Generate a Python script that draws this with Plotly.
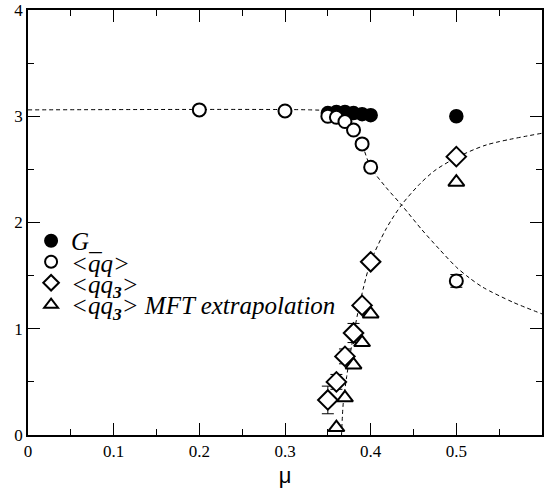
import plotly.graph_objects as go

# ---- data ----
mu_G = [0.35, 0.36, 0.37, 0.38, 0.39, 0.40, 0.50]
G_vals = [3.03, 3.04, 3.04, 3.03, 3.02, 3.01, 3.00]

mu_qq = [0.20, 0.30, 0.35, 0.36, 0.37, 0.38, 0.39, 0.40, 0.50]
qq_vals = [3.06, 3.05, 3.00, 2.99, 2.95, 2.87, 2.74, 2.52, 1.45]
qq_err = [0.01, 0.01, 0.02, 0.02, 0.03, 0.03, 0.04, 0.04, 0.06]

mu_qq3 = [0.35, 0.36, 0.37, 0.38, 0.39, 0.40, 0.50]
qq3_vals = [0.33, 0.50, 0.74, 0.96, 1.22, 1.63, 2.62]
qq3_err = [0.13, 0.07, 0.07, 0.09, 0.04, 0.03, 0.02]

mu_mft = [0.36, 0.37, 0.38, 0.39, 0.40, 0.50]
mft_vals = [0.07, 0.35, 0.66, 0.87, 1.14, 2.38]

# dashed guide curves
fall_mu = [0.0, 0.33, 0.35, 0.36, 0.37, 0.38, 0.39, 0.40, 0.418, 0.436, 0.46, 0.48, 0.50, 0.515, 0.531, 0.566, 0.60]
fall_vals = [3.06, 3.06, 3.05, 3.02, 2.96, 2.87, 2.73, 2.52, 2.33, 2.165, 1.93, 1.75, 1.58, 1.48, 1.39, 1.25, 1.14]

rise_mu = [0.366, 0.368, 0.372, 0.378, 0.385, 0.392, 0.40, 0.418, 0.436, 0.457, 0.475, 0.50, 0.535, 0.60]
rise_vals = [0.0, 0.30, 0.55, 0.85, 1.15, 1.40, 1.63, 1.94, 2.165, 2.36, 2.49, 2.61, 2.73, 2.84]

x_tickvals = [0, 0.1, 0.2, 0.3, 0.4, 0.5]
x_ticktext = ["0", "0.1", "0.2", "0.3", "0.4", "0.5"]
x_minor = [0.05, 0.15, 0.25, 0.35, 0.45, 0.55]
y_tickvals = [0, 1, 2, 3, 4]
y_ticktext = ["0", "1", "2", "3", "4"]
y_minor = [0.5, 1.5, 2.5, 3.5]

names = ["G_", "&lt;qq&gt;", "&lt;qq<sub><b>3</b></sub>&gt;",
         "&lt;qq<sub><b>3</b></sub>&gt; MFT extrapolation"]
legend_y = [0.4565, 0.407, 0.3576, 0.306]

fig = go.Figure()

dash_line = dict(color="black", width=1, dash="4px,3px")
fig.add_trace(go.Scatter(x=fall_mu, y=fall_vals, mode="lines",
                         line=dict(shape="spline", smoothing=0.8, **dash_line),
                         showlegend=False, hoverinfo="skip"))
fig.add_trace(go.Scatter(x=rise_mu, y=rise_vals, mode="lines",
                         line=dict(shape="spline", smoothing=0.8, **dash_line),
                         showlegend=False, hoverinfo="skip"))

fig.add_trace(go.Scatter(x=mu_G, y=G_vals, mode="markers", name=names[0], legend="legend",
                         marker=dict(symbol="circle", size=13, color="black", line=dict(color="black", width=1.5))))
fig.add_trace(go.Scatter(x=mu_qq, y=qq_vals, mode="markers", name=names[1], legend="legend2",
                         error_y=dict(type="data", array=qq_err, color="black", thickness=1, width=6),
                         marker=dict(symbol="circle", size=13, color="white", line=dict(color="black", width=2))))
fig.add_trace(go.Scatter(x=mu_qq3, y=qq3_vals, mode="markers", name=names[2], legend="legend3",
                         error_y=dict(type="data", array=qq3_err, color="black", thickness=1, width=6),
                         marker=dict(symbol="diamond", size=15, color="white", line=dict(color="black", width=2))))
fig.add_trace(go.Scatter(x=mu_mft, y=mft_vals, mode="markers", name=names[3], legend="legend4",
                         marker=dict(symbol="triangle-up", size=14, color="white", line=dict(color="black", width=2)),
                         cliponaxis=False))

serif = "Times New Roman"
tick_font = dict(family=serif, size=17, color="black")
leg_font = dict(family=serif, size=25, color="black", style="italic")


def leg(yv):
    return dict(x=0.006, y=yv, xanchor="left", yanchor="middle",
                bgcolor="rgba(0,0,0,0)", borderwidth=0, font=leg_font,
                itemwidth=30, itemsizing="constant")


fig.update_layout(
    width=554, height=497,
    margin=dict(l=28, r=12, t=10, b=62),
    plot_bgcolor="white", paper_bgcolor="white",
    showlegend=True,
    legend=leg(legend_y[0]), legend2=leg(legend_y[1]),
    legend3=leg(legend_y[2]), legend4=leg(legend_y[3]),
    xaxis=dict(range=[0, 0.6], tickmode="array", tickvals=x_tickvals, ticktext=x_ticktext,
               ticks="inside", ticklen=12, tickwidth=1, tickcolor="black",
               minor=dict(tickmode="array", tickvals=x_minor, ticks="inside", ticklen=6, tickcolor="black"),
               showline=True, linecolor="black", linewidth=1.5, mirror="ticks",
               showgrid=False, zeroline=False, tickfont=tick_font, automargin=False,
               title=dict(text="μ", font=dict(family="Liberation Sans", size=22, color="black"),
                          standoff=7)),
    yaxis=dict(range=[0, 4], tickmode="array", tickvals=y_tickvals, ticktext=y_ticktext,
               ticks="inside", ticklen=12, tickwidth=1, tickcolor="black",
               minor=dict(tickmode="array", tickvals=y_minor, ticks="inside", ticklen=6, tickcolor="black"),
               showline=True, linecolor="black", linewidth=1.5, mirror="ticks",
               showgrid=False, zeroline=False, tickfont=tick_font, automargin=False),
)

fig.write_html("out.html", config={"displayModeBar": False},
               post_script="document.body.style.margin='0';")
